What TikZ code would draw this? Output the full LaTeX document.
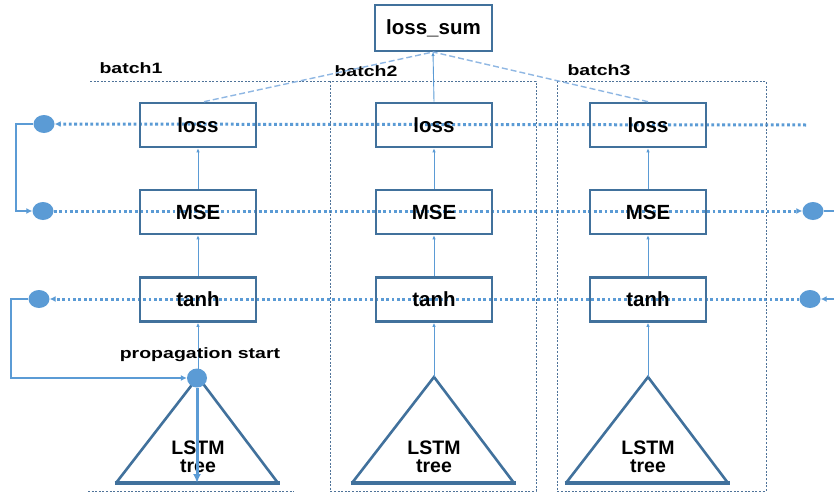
\documentclass[tikz,border=0pt]{standalone}
\usepackage{fontspec}
\setmainfont{Liberation Sans}
\usetikzlibrary{arrows.meta,shapes.geometric,backgrounds}
\definecolor{boxblue}{HTML}{41719C}
\definecolor{lineblue}{HTML}{5B9BD5}
\definecolor{paleblue}{HTML}{8FB7E3}
\definecolor{framegray}{HTML}{4F7399}
\tikzset{
  unit/.style={draw=boxblue, line width=2.6pt, minimum width=116pt, minimum height=44pt,
    inner sep=0pt, font=\fontsize{20.5}{22}\selectfont\bfseries},
  dotnode/.style={ellipse, fill=lineblue, minimum width=21pt, minimum height=18pt, inner sep=0pt},
  rowline/.style={draw=lineblue, line width=3pt, dash pattern=on 2.8pt off 2.6pt},
  uparrow/.style={draw=lineblue, line width=0.9pt, -{Latex[length=4pt,width=3.5pt]}},
  feed/.style={draw=lineblue, line width=2pt},
  tip/.style={-{Latex[length=6pt,width=6pt]}},
  sumline/.style={draw=paleblue, line width=1.4pt, dash pattern=on 6pt off 3pt},
  batchframe/.style={draw=framegray, line width=0.8pt, dash pattern=on 2pt off 1.6pt},
  tree/.style={draw=boxblue, line width=2.6pt, line join=miter},
  treebase/.style={draw=boxblue, line width=3.6pt},
  caption/.style={font=\fontsize{15}{17}\selectfont\bfseries, inner sep=0pt},
  treetext/.style={font=\fontsize{19.5}{21}\selectfont\bfseries, align=center, inner sep=0pt}
}
\begin{document}
\begin{tikzpicture}[x=1pt, y=-1pt]
\useasboundingbox (0,0) rectangle (834,495);

% batch frames
\draw[batchframe] (90,81) -- (330,81);
\draw[batchframe] (88,491) -- (294,491);
\draw[batchframe] (330,81) rectangle (536,491);
\draw[batchframe] (557,81) rectangle (766,491);
\node[caption] (b1) at (131,68) {\scalebox{1.3}[1]{batch1}};
\node[caption] (b2) at (366,71) {\scalebox{1.3}[1]{batch2}};
\node[caption] (b3) at (599,70) {\scalebox{1.3}[1]{batch3}};

% top node
\node[unit, minimum width=117pt, minimum height=46pt] (sum) at (433.5,28) {loss\_sum};

% three columns of units
\foreach \c/\x in {1/198,2/434,3/648}{
  \node[unit] (loss\c) at (\x,125) {loss};
  \node[unit] (mse\c)  at (\x,212) {MSE};
  \node[unit] (tanh\c) at (\x,299.5) {tanh};
  \coordinate (apex\c) at (\x,377);
  \draw[tree] (\x-82,483) -- (apex\c) -- (\x+80,483);
  \draw[treebase] (\x-83.5,483) -- (\x+81.5,483);
  \node[treetext] (lstm\c) at (\x,457) {LSTM\\[-3pt]tree};
  \draw[uparrow] (tanh\c.north) -- (mse\c.south);
  \draw[uparrow] (mse\c.north) -- (loss\c.south);
  \draw[uparrow] (apex\c) -- (tanh\c.south);
}

% collection into loss_sum
\coordinate (sumin) at (433,52);
\draw[uparrow] (loss2.north) -- (sumin);
\draw[sumline] ([xshift=6pt]loss1.north) -- (sumin);
\draw[sumline] (loss3.north) -- (sumin);

% propagation markers
\node[dotnode] (dl1) at (44,124) {};
\node[dotnode] (dl2) at (43,211) {};
\node[dotnode] (dl3) at (39,299) {};
\node[dotnode] (dr2) at (813,211) {};
\node[dotnode] (dr3) at (810,299) {};
\node[dotnode, minimum width=20pt, minimum height=19pt] (ps) at (197,378) {};
\node[caption] (pslabel) at (200,355) {\scalebox{1.3}[1]{propagation start}};
\coordinate (lossend) at (806,125);
\coordinate (mseout) at (834,211);
\coordinate (tanhin) at (834,299);
\coordinate (treebottom) at (197,483);

% dotted propagation rows, behind the units
\begin{pgfonlayer}{background}
  \draw[rowline, tip] (lossend) -- (dl1);
  \draw[rowline, tip] (dl2) -- (dr2);
  \draw[rowline, tip] (dr3) -- (dl3);
\end{pgfonlayer}

% solid feedback connectors
\draw[feed] (dr2) -- (mseout);
\draw[feed, tip] (tanhin) -- (dr3);
\draw[feed, tip] (dl1.west) -- (16,124) |- (dl2.west);
\draw[feed, tip] (dl3.west) -- (11,299) |- (ps.west);
\draw[draw=lineblue, line width=3pt, -{Latex[length=9pt,width=8pt]}] (ps) -- (treebottom);
\end{tikzpicture}
\end{document}
